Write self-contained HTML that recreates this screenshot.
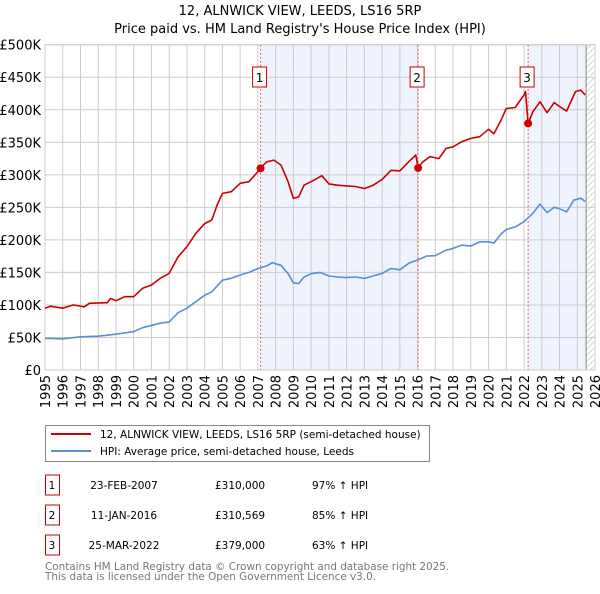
<!DOCTYPE html>
<html><head><meta charset="utf-8"><style>
body{margin:0;width:600px;height:590px;background:#fff;font-family:"DejaVu Sans","Liberation Sans",sans-serif;overflow:hidden}
svg text{font-family:"DejaVu Sans","Liberation Sans",sans-serif}
</style></head><body>
<svg id="c" width="600" height="590"></svg>
<script>
const hpiYears=[1995,1996,1997,1998,1999,2000,2000.5,2001.5,2002,2002.5,2003,2003.5,2004,2004.4,2005,2005.5,2006,2006.5,2007,2007.5,2007.8,2008.3,2008.7,2009,2009.3,2009.6,2010,2010.5,2011,2011.5,2012,2012.5,2013,2013.5,2014,2014.5,2015,2015.5,2016,2016.5,2017,2017.5,2018,2018.5,2019,2019.5,2020,2020.3,2020.7,2021,2021.5,2022,2022.5,2022.9,2023.3,2023.7,2024,2024.4,2024.8,2025.2,2025.45];
const hpiValues=[48.7,48,51,52,55,59,65,72,74,88,95,105,115,120,138,141,146,150,156,160,165,161,148,134,133,143,148,150,144.5,143,142,143,141,144.5,148.5,156,154,164,169,175,175.7,183,187,192,190.5,197,197,195,209,216,220,228,241,255,242,250,248,243,261,264,259];
const priceYears=[1995,1995.3,1996,1996.6,1997.2,1997.5,1998.5,1998.7,1999,1999.5,2000,2000.5,2001,2001.5,2002,2002.5,2003,2003.5,2004,2004.4,2004.7,2005,2005.5,2006,2006.5,2007,2007.15,2007.5,2007.9,2008.3,2008.7,2009,2009.3,2009.6,2010,2010.6,2011,2011.5,2012,2012.5,2013,2013.5,2014,2014.5,2015,2015.5,2015.9,2016.03,2016.3,2016.7,2017.2,2017.6,2018,2018.5,2019,2019.5,2020,2020.3,2020.7,2021,2021.5,2022,2022.08,2022.23,2022.5,2022.9,2023.3,2023.7,2024,2024.4,2024.9,2025.2,2025.45];
const priceValues=[95,98,95,100,97,102.5,103.5,110,106.5,112.7,112.7,125.5,130.6,141,148.6,174,189.5,210,225,230.5,253.6,271.5,274,287,289.5,305,311,320,322.7,315,289.5,263.8,266,284,289.5,298.7,286,284,283,282,279,284,293,307,306,320,330.5,311,320,328,325,340.5,343,351,356,358.6,369.9,363,384,402,403.5,422.7,428,379,397,412.3,395.5,411,405,398,428,430,422.7];
const saleYears=[2007.15,2016.03,2022.23];
const saleValues=[310,310.569,379];
const saleLabels=["1","2","3"];
const yTicks=[0,50,100,150,200,250,300,350,400,450,500];
const yTickLabels=["£0","£50K","£100K","£150K","£200K","£250K","£300K","£350K","£400K","£450K","£500K"];
const xTicks=[1995,1996,1997,1998,1999,2000,2001,2002,2003,2004,2005,2006,2007,2008,2009,2010,2011,2012,2013,2014,2015,2016,2017,2018,2019,2020,2021,2022,2023,2024,2025,2026];
const dataEnd=2025.5;

const L=45,R=595,T=44.7,B=370;
const X=y=>L+(y-1995)/(2026-1995)*(R-L);
const Y=v=>B-v/500*(B-T);
const NS="http://www.w3.org/2000/svg";
const svg=document.getElementById('c');
function mk(tag,attrs,parent){const e=document.createElementNS(NS,tag);for(const k in attrs)e.setAttribute(k,attrs[k]);(parent||svg).appendChild(e);return e;}

const defs=mk('defs',{});
const pat=mk('pattern',{id:'hatch',width:6,height:6,patternUnits:'userSpaceOnUse'},defs);
mk('path',{d:'M0,6 L6,0',stroke:'#ccc','stroke-width':0.8},pat);

let r=mk('rect',{x:X(saleYears[0]),y:T,width:X(saleYears[1])-X(saleYears[0]),height:B-T,fill:'#eef3fd'});

r=mk('rect',{x:X(saleYears[2]),y:T,width:X(dataEnd)-X(saleYears[2]),height:B-T,fill:'#eef3fd'});

r=mk('rect',{x:X(dataEnd),y:T,width:R-X(dataEnd),height:B-T,fill:'url(#hatch)'});


yTicks.forEach((v,i)=>{
  const l=mk('line',{x1:L,x2:R,y1:Y(v),y2:Y(v),stroke:'#ccc','stroke-width':1});
  
  const t=mk('text',{x:L-4,y:Y(v)+5,'text-anchor':'end','font-size':13,fill:'#000'});
  t.textContent=yTickLabels[i];
  
});
xTicks.forEach(y=>{
  const l=mk('line',{x1:X(y),x2:X(y),y1:T,y2:B,stroke:'#ccc','stroke-width':1});
  
  const t=mk('text',{x:0,y:0,'text-anchor':'end','font-size':13,transform:`translate(${X(y)+5},${B+5}) rotate(-90)`});
  t.textContent=y;
  
});
let el=mk('line',{x1:X(dataEnd),x2:X(dataEnd),y1:T,y2:B,stroke:'#888','stroke-width':1});

el=mk('rect',{x:L,y:T,width:R-L,height:B-T,fill:'none',stroke:'#ccc'});


saleYears.forEach((y,i)=>{
  const l=mk('line',{x1:X(y),x2:X(y),y1:T,y2:B,stroke:'#e06060','stroke-width':1,'stroke-dasharray':'2,2'});
  
});

function line(xs,vs,color,name){
  const d=xs.map((x,i)=>(i?'L':'M')+X(x).toFixed(1)+','+Y(vs[i]).toFixed(1)).join(' ');
  const p=mk('path',{d:d,fill:'none',stroke:color,'stroke-width':1.6,'stroke-linejoin':'round'});
  
}
line(hpiYears,hpiValues,'#5b8fd4','hpi-line');
line(priceYears,priceValues,'#cc0000','price-line');

saleYears.forEach((y,i)=>{
  const c=mk('circle',{cx:X(y),cy:Y(saleValues[i]),r:4,fill:'#cc0000'});
  
  const g=mk('g',{});
  
  mk('rect',{x:X(y)-8,y:67,width:14,height:20,fill:'#fff',stroke:'#cc0000'},g);
  const t=mk('text',{x:X(y)-1,y:82,'text-anchor':'middle','font-size':12},g);
  t.textContent=saleLabels[i];
});

el=mk('text',{x:300,y:15,'text-anchor':'middle','font-size':13});el.textContent='12, ALNWICK VIEW, LEEDS, LS16 5RP';

el=mk('text',{x:300,y:33,'text-anchor':'middle','font-size':13});el.textContent="Price paid vs. HM Land Registry's House Price Index (HPI)";


const lg=mk('g',{});
mk('rect',{x:45.5,y:425.5,width:384,height:36,fill:'#fff',stroke:'#888'},lg);
mk('line',{x1:51,x2:91,y1:434,y2:434,stroke:'#cc0000','stroke-width':2},lg);
mk('line',{x1:51,x2:91,y1:451,y2:451,stroke:'#5b8fd4','stroke-width':2},lg);
el=mk('text',{x:100,y:438,'font-size':10.5},lg);el.textContent='12, ALNWICK VIEW, LEEDS, LS16 5RP (semi-detached house)';

el=mk('text',{x:100,y:455,'font-size':10.5},lg);el.textContent='HPI: Average price, semi-detached house, Leeds';


const rows=[["1","23-FEB-2007","£310,000","97% ↑ HPI"],["2","11-JAN-2016","£310,569","85% ↑ HPI"],["3","25-MAR-2022","£379,000","63% ↑ HPI"]];
rows.forEach((rw,i)=>{
  const yy=483+i*30;
  const g=mk('g',{});
  mk('rect',{x:45.5,y:yy-8,width:14,height:20,fill:'#fff',stroke:'#cc0000'},g);
  let t=mk('text',{x:52,y:yy+6,'text-anchor':'middle','font-size':10.5},g);t.textContent=rw[0];
  t=mk('text',{x:124,y:yy+6,'text-anchor':'middle','font-size':10.5},g);t.textContent=rw[1];
  t=mk('text',{x:215,y:yy+6,'font-size':10.5},g);t.textContent=rw[2];
  t=mk('text',{x:312,y:yy+6,'font-size':10.5},g);t.textContent=rw[3];
});
el=mk('text',{x:45,y:570,'font-size':10.4,fill:'#777'});el.textContent='Contains HM Land Registry data © Crown copyright and database right 2025.';

el=mk('text',{x:45,y:580,'font-size':10.4,fill:'#777'});el.textContent='This data is licensed under the Open Government Licence v3.0.';

</script>
</body></html>
